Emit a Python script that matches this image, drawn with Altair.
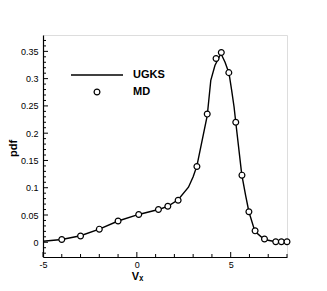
import altair as alt
import pandas as pd

# MD samples
md_vx = [-4.0, -3.0, -2.0, -1.0, 0.1, 1.15, 1.65, 2.2, 3.2, 3.75, 4.22, 4.5, 4.9, 5.27, 5.6, 5.97, 6.3, 6.8, 7.4, 7.7, 8.0]
md_pdf = [0.005, 0.0115, 0.024, 0.039, 0.051, 0.060, 0.066, 0.077, 0.139, 0.235, 0.337, 0.348, 0.311, 0.220, 0.123, 0.056, 0.021, 0.006, 0.001, 0.001, 0.001]

# UGKS curve
ug_vx = [-5.0, -4.0, -3.0, -2.0, -1.0, 0.1, 1.15, 1.65, 2.2, 2.75, 3.0, 3.2, 3.75, 3.94, 4.16, 4.48, 4.7, 4.91, 5.05, 5.18, 5.27, 5.59, 5.8, 5.97, 6.29, 6.79, 7.4, 8.0]
ug_pdf = [0.002, 0.005, 0.012, 0.024, 0.039, 0.051, 0.060, 0.066, 0.078, 0.101, 0.120, 0.140, 0.232, 0.297, 0.324, 0.346, 0.330, 0.310, 0.279, 0.248, 0.220, 0.124, 0.085, 0.056, 0.020, 0.005, 0.001, 0.0]

x_major = [-5, 0, 5]
x_minor = [-4, -3, -2, -1, 1, 2, 3, 4, 6, 7, 8]
y_major = [0, 0.05, 0.1, 0.15, 0.2, 0.25, 0.3, 0.35]
y_minor = [-0.02, -0.01, 0.01, 0.02, 0.03, 0.04, 0.06, 0.07, 0.08, 0.09, 0.11, 0.12, 0.13, 0.14,
           0.16, 0.17, 0.18, 0.19, 0.21, 0.22, 0.23, 0.24, 0.26, 0.27, 0.28, 0.29, 0.31, 0.32,
           0.33, 0.34, 0.36, 0.37]

legend_labels = ["UGKS", "MD"]

W, H = 244, 222
FONT = "Liberation Sans"
PT_SIZE = 34

xscale = alt.Scale(domain=[-5, 8], nice=False, zero=False)
yscale = alt.Scale(domain=[-0.027, 0.38], nice=False, zero=False)

md = pd.DataFrame({"vx": md_vx, "pdf": md_pdf})
ug = pd.DataFrame({"vx": ug_vx, "pdf": ug_pdf})

xaxis = alt.Axis(values=x_major, ticks=False, grid=False, domainColor="black", domainWidth=1.2,
                 labelFont=FONT, labelFontSize=9, labelColor="black", labelPadding=3,
                 labelExpr="'' + datum.value", labelOverlap=False, labelFlush=False,
                 title="Vₓ", titleFont=FONT, titleFontSize=11, titleFontWeight="bold",
                 titleColor="black", titleX=94, titleY=19, titleBaseline="middle", titleAlign="center")
yaxis = alt.Axis(values=y_major, ticks=False, grid=False, domainColor="black", domainWidth=1.2,
                 labelFont=FONT, labelFontSize=9, labelColor="black", labelPadding=5,
                 labelExpr="'' + datum.value", labelOverlap=False, labelFlush=False,
                 title="pdf", titleFont=FONT, titleFontSize=11, titleFontWeight="bold",
                 titleColor="black", titleAngle=270, titleX=-30, titleY=113,
                 titleBaseline="middle", titleAlign="center")

line = alt.Chart(ug).mark_line(color="black", strokeWidth=1.4).encode(
    x=alt.X("vx:Q", scale=xscale, axis=xaxis, title="Vₓ"),
    y=alt.Y("pdf:Q", scale=yscale, axis=yaxis, title="pdf"),
)
pts = alt.Chart(md).mark_point(shape="circle", filled=True, fill="white", stroke="black",
                               strokeWidth=1.2, size=PT_SIZE, opacity=1).encode(
    x=alt.X("vx:Q", scale=xscale, axis=xaxis, title="Vₓ"),
    y=alt.Y("pdf:Q", scale=yscale, axis=yaxis, title="pdf"),
)

def xticks(vals, length):
    return alt.Chart(pd.DataFrame({"v": vals})).mark_rule(color="black", strokeWidth=1).encode(
        x=alt.X("v:Q", scale=xscale, axis=xaxis, title="Vₓ"), y=alt.value(H), y2=alt.value(H - length))

def yticks(vals, length):
    return alt.Chart(pd.DataFrame({"v": vals})).mark_rule(color="black", strokeWidth=1).encode(
        y=alt.Y("v:Q", scale=yscale, axis=yaxis, title="pdf"), x=alt.value(0), x2=alt.value(length))

one = pd.DataFrame({"a": [0]})
leg_line = alt.Chart(one).mark_rule(color="black", strokeWidth=1.4).encode(
    x=alt.value(28), x2=alt.value(80), y=alt.value(40))
leg_pt = alt.Chart(one).mark_point(
    shape="circle", filled=True, fill="white", stroke="black", strokeWidth=1.2, size=PT_SIZE, opacity=1
).encode(x=alt.value(54), y=alt.value(57))

def leg_text(label, ypos):
    return alt.Chart(one).mark_text(
        align="left", baseline="middle", font=FONT, fontSize=11, fontWeight="bold", color="black",
        text=label).encode(x=alt.value(90), y=alt.value(ypos))

chart = alt.layer(
    line, xticks(x_major, 5), xticks(x_minor, 3), yticks(y_major, 5), yticks(y_minor, 3),
    pts, leg_line, leg_pt, leg_text(legend_labels[0], 40), leg_text(legend_labels[1], 57)
).properties(
    width=W, height=H, autosize=alt.AutoSizeParams(type="none"),
    padding={"left": 35, "top": 27, "right": 10, "bottom": 30}
).configure_view(stroke=None).configure(background="white")

chart.save("out.html", embed_options={"renderer": "svg", "actions": False})
